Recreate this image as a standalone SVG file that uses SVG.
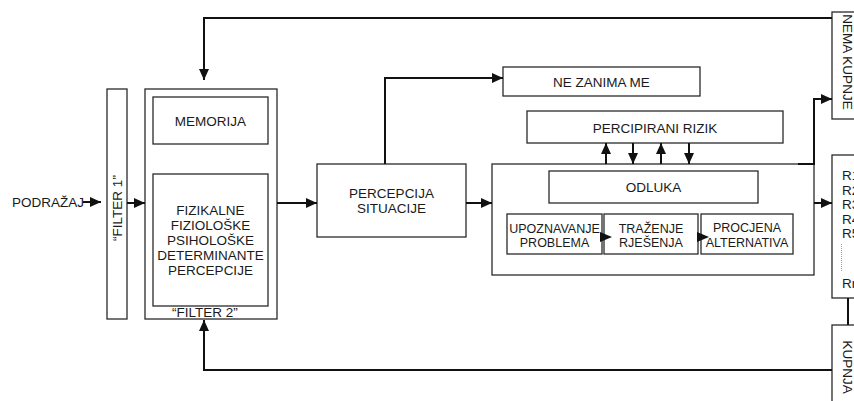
<svg xmlns="http://www.w3.org/2000/svg" width="854" height="401" viewBox="0 0 854 401">
<style>
.box{fill:#fff;stroke:#2a2a2a;stroke-width:1.3}
.t{font-family:"Liberation Sans",Arial,sans-serif;font-size:13.5px;fill:#1a1a1a;text-anchor:middle}
.s{font-size:12.5px}
.l{text-anchor:start}
.c{fill:none;stroke:#111;stroke-width:2}
.ah{fill:#111}
</style>
<defs>
<marker id="a" markerUnits="userSpaceOnUse" markerWidth="12" markerHeight="10" refX="11" refY="5" orient="auto"><path d="M0,0 L11,5 L0,10 Z" fill="#111"/></marker>
</defs>
<rect width="854" height="401" fill="#fff"/>

<g id="podrazaj"><text class="t l" x="12" y="207">PODRAŽAJ</text></g>

<g id="filter1">
<rect class="box" x="107" y="89" width="20" height="230"/>
<text class="t" transform="translate(117,208) rotate(-90)" y="4.8">“FILTER 1”</text>
</g>

<g id="filter2">
<rect class="box" x="145" y="89" width="132" height="230"/>
<text class="t" x="205" y="317">“FILTER 2”</text>
</g>

<g id="memorija">
<rect class="box" x="153" y="97" width="115" height="47"/>
<text class="t" x="210.5" y="125.5">MEMORIJA</text>
</g>

<g id="determinante">
<rect class="box" x="153" y="174" width="115" height="132"/>
<text class="t" x="210.5" y="215">FIZIKALNE</text>
<text class="t" x="210.5" y="230">FIZIOLOŠKE</text>
<text class="t" x="210.5" y="245">PSIHOLOŠKE</text>
<text class="t" x="210.5" y="260">DETERMINANTE</text>
<text class="t" x="210.5" y="275">PERCEPCIJE</text>
</g>

<g id="percepcija">
<rect class="box" x="317" y="164" width="149" height="73"/>
<text class="t" x="391.5" y="198">PERCEPCIJA</text>
<text class="t" x="391.5" y="213">SITUACIJE</text>
</g>

<g id="nezanima">
<rect class="box" x="503" y="67" width="197" height="29"/>
<text class="t" x="601.5" y="86.5">NE ZANIMA ME</text>
</g>

<g id="rizik">
<rect class="box" x="527" y="111" width="256" height="32"/>
<text class="t" x="655" y="132.5">PERCIPIRANI RIZIK</text>
</g>

<g id="proces">
<rect class="box" x="492" y="164" width="322" height="111"/>
</g>

<g id="odluka">
<rect class="box" x="549" y="171" width="209" height="32"/>
<text class="t" x="653.5" y="192">ODLUKA</text>
</g>

<g id="upoznavanje">
<rect class="box" x="507" y="214" width="95" height="40"/>
<text class="t s" x="554.5" y="233">UPOZNAVANJE</text>
<text class="t s" x="554.5" y="247">PROBLEMA</text>
</g>

<g id="trazenje">
<rect class="box" x="604" y="214" width="94" height="40"/>
<text class="t s" x="651" y="233">TRAŽENJE</text>
<text class="t s" x="651" y="247">RJEŠENJA</text>
</g>

<g id="procjena">
<rect class="box" x="701" y="214" width="92" height="40"/>
<text class="t s" x="747" y="232">PROCJENA</text>
<text class="t s" x="747" y="246.5">ALTERNATIVA</text>
</g>

<g id="nemakupnje">
<rect class="box" x="832" y="12" width="40" height="107"/>
<text class="t" transform="translate(848,62) rotate(90)" y="4.8">NEMA KUPNJE</text>
</g>

<g id="rezultati">
<rect class="box" x="832" y="155" width="40" height="143"/>
<text class="t l" x="842" y="180">R1</text>
<text class="t l" x="842" y="194.5">R2</text>
<text class="t l" x="842" y="209">R3</text>
<text class="t l" x="842" y="223.5">R4</text>
<text class="t l" x="842" y="238">R5</text>
<line x1="841.5" y1="244" x2="841.5" y2="272" stroke="#888" stroke-width="0.8" stroke-dasharray="1,1"/>
<text class="t l" x="842" y="288">Rn</text>
</g>

<g id="kupnja">
<rect class="box" x="832" y="325" width="40" height="90"/>
<text class="t" transform="translate(848,367) rotate(90)" y="4.8">KUPNJA</text>
</g>

<g id="connectors">
<path class="c" d="M83,202 L101,202" marker-end="url(#a)"/>
<path class="c" d="M127,203 L145,203" marker-end="url(#a)"/>
<path class="c" d="M277,203 L317,203" marker-end="url(#a)"/>
<path class="c" d="M466,203 L492,203" marker-end="url(#a)"/>
<path class="c" d="M385,164 L385,78 L503,78" marker-end="url(#a)"/>
<path class="c" d="M606,164 L606,143" marker-end="url(#a)"/>
<path class="c" d="M633,143 L633,164" marker-end="url(#a)"/>
<path class="c" d="M661,164 L661,143" marker-end="url(#a)"/>
<path class="c" d="M689,143 L689,164" marker-end="url(#a)"/>
<path class="c" d="M798,164 L814,164 L814,99 L832,99" marker-end="url(#a)"/>
<path class="c" d="M814,203 L832,203" marker-end="url(#a)"/>
<path class="c" d="M848,298 L848,325"/>
<path class="c" d="M832,18 L204,18 L204,80" marker-end="url(#a)"/>
<path class="c" d="M832,370 L204,370 L204,320" marker-end="url(#a)"/>
<path class="ah" d="M600,232 L612,237 L600,242 Z"/>
<path class="ah" d="M697,232 L709,237 L697,242 Z"/>
</g>
</svg>
